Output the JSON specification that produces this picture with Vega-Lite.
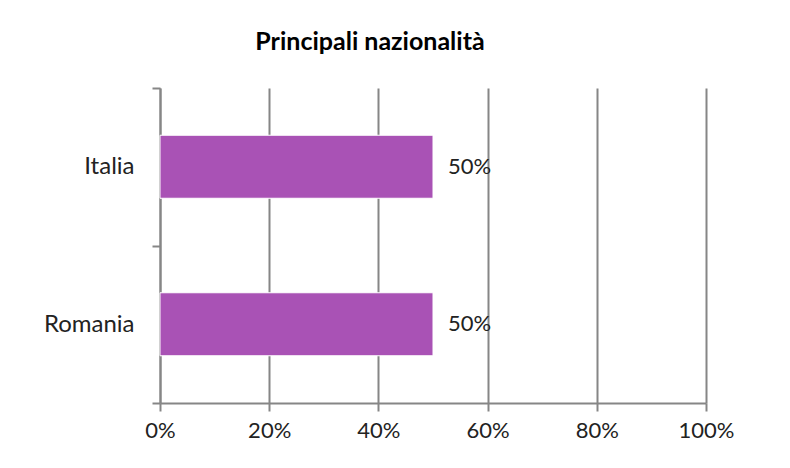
{
  "$schema": "https://vega.github.io/schema/vega-lite/v6.json",
  "width": 546,
  "height": 315,
  "autosize": {"type": "none"},
  "padding": {"left": 160, "top": 88, "right": 84, "bottom": 65},
  "background": "white",
  "title": {
    "text": "Principali nazionalità",
    "font": "Lato",
    "fontSize": 25,
    "fontWeight": "bold",
    "color": "#000000",
    "anchor": "middle",
    "dx": -63,
    "offset": 21
  },
  "data": {
    "values": [
      {"paese": "Italia", "quota": 0.5},
      {"paese": "Romania", "quota": 0.5}
    ]
  },
  "encoding": {
    "y": {
      "field": "paese",
      "type": "nominal",
      "sort": null,
      "title": null,
      "scale": {"paddingInner": 0, "paddingOuter": 0},
      "axis": {
        "domainColor": "#868686",
        "domainWidth": 2,
        "tickColor": "#868686",
        "tickWidth": 2,
        "tickSize": 8,
        "tickBand": "extent",
        "labelFont": "Lato",
        "labelFontSize": 24,
        "labelColor": "#222222",
        "labelPadding": 18,
        "grid": false
      }
    },
    "x": {
      "field": "quota",
      "type": "quantitative",
      "title": null,
      "scale": {"domain": [0, 1], "nice": false},
      "axis": {
        "format": ".0%",
        "values": [0, 0.2, 0.4, 0.6, 0.8, 1],
        "labelFlush": false,
        "domainColor": "#868686",
        "domainWidth": 2,
        "tickColor": "#868686",
        "tickWidth": 2,
        "tickSize": 8,
        "gridColor": "#868686",
        "gridWidth": 2,
        "gridOpacity": 1,
        "labelFont": "Lato",
        "labelFontSize": 22,
        "labelColor": "#222222",
        "labelPadding": 9
      }
    }
  },
  "layer": [
    {"mark": {"type": "bar", "color": "#A952B5", "stroke": "#ffffff", "strokeWidth": 1, "height": {"band": 0.4}}},
    {
      "mark": {"type": "text", "align": "left", "dx": 15, "font": "Lato", "fontSize": 22, "color": "#222222"},
      "encoding": {"text": {"field": "quota", "format": ".0%"}}
    }
  ],
  "config": {"view": {"stroke": null}}
}
